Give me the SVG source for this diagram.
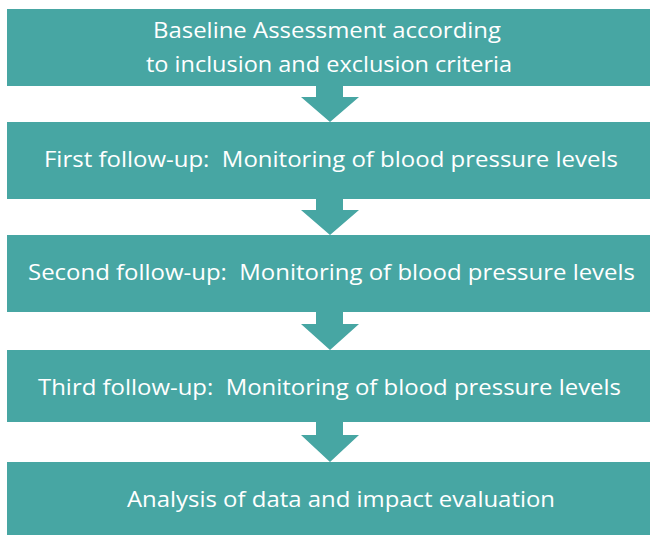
<svg xmlns="http://www.w3.org/2000/svg" width="658" height="535" viewBox="0 0 658 535">
  <style>
    .box { fill: #47a6a3; }
    .arrow { fill: #47a6a3; }
    .label { font-family: "Open Sans", "Noto Sans", "Liberation Sans", sans-serif; font-size: 22px; fill: #ffffff; text-anchor: middle; white-space: pre; }
  </style>
  <rect width="658" height="535" fill="#ffffff"/>

  <!-- block arrows between the stages -->
  <g id="connectors">
    <polygon class="arrow" points="316,86 343,86 343,97 359,97 330,122 301,97 316,97"/>
    <polygon class="arrow" points="316,199 343,199 343,210 359,210 330,235 301,210 316,210"/>
    <polygon class="arrow" points="316,312 343,312 343,324 359,324 330,350 301,324 316,324"/>
    <polygon class="arrow" points="316,422 343,422 343,435 359,435 330,462 301,435 316,435"/>
  </g>

  <g id="baseline">
    <rect class="box" x="7" y="9" width="643" height="77"/>
    <text class="label" x="327" y="38" textLength="348" lengthAdjust="spacingAndGlyphs">Baseline Assessment according</text>
    <text class="label" x="329" y="72" textLength="366" lengthAdjust="spacingAndGlyphs">to inclusion and exclusion criteria</text>
  </g>

  <g id="first-follow-up">
    <rect class="box" x="7" y="122" width="643" height="77"/>
    <text class="label" xml:space="preserve" x="331" y="167" textLength="574" lengthAdjust="spacingAndGlyphs">First follow-up:  Monitoring of blood pressure levels</text>
  </g>

  <g id="second-follow-up">
    <rect class="box" x="7" y="235" width="643" height="77"/>
    <text class="label" xml:space="preserve" x="331.5" y="280" textLength="607" lengthAdjust="spacingAndGlyphs">Second follow-up:  Monitoring of blood pressure levels</text>
  </g>

  <g id="third-follow-up">
    <rect class="box" x="7" y="350" width="643" height="72"/>
    <text class="label" xml:space="preserve" x="329.5" y="395" textLength="583" lengthAdjust="spacingAndGlyphs">Third follow-up:  Monitoring of blood pressure levels</text>
  </g>

  <g id="analysis">
    <rect class="box" x="7" y="462" width="643" height="73"/>
    <text class="label" x="341" y="507" textLength="428" lengthAdjust="spacingAndGlyphs">Analysis of data and impact evaluation</text>
  </g>
</svg>
